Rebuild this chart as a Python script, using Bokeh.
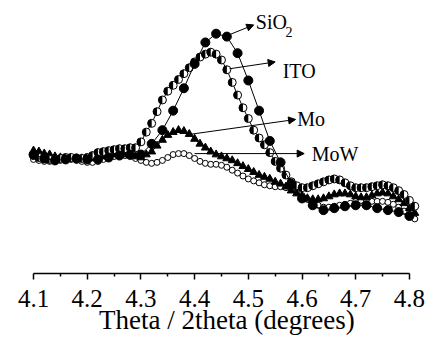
import numpy as np
from bokeh.plotting import figure
from bokeh.models import (Range1d, Arrow, NormalHead, FixedTicker, ColumnDataSource,
                          CustomJSTickFormatter)
from bokeh.core.properties import value
from bokeh.embed import file_html
from bokeh.resources import INLINE

# ---- data (intensity, arbitrary units) ----
theta_sio2 = np.round(np.arange(4.10, 4.801, 0.02), 2)
sio2 = [123, 119, 117, 118, 119, 118, 118, 120, 122, 123,
        123, 134, 148, 168, 191, 216, 238, 247, 244, 227,
        199, 168, 137, 115, 93, 78, 71, 66, 68, 70,
        71, 71, 68, 66, 64, 60]

theta = np.round(np.arange(4.10, 4.8101, 0.01), 2)
ito = [122, 120, 119, 118, 118, 119, 120, 120, 119, 119,
       120, 122, 125, 126, 127, 128, 129, 129, 130, 130,
       136, 146, 155, 167, 179, 188, 194, 200, 206, 212,
       218, 223, 226, 228, 226, 220, 210, 197, 184, 171,
       160, 148, 140, 133, 125, 116, 109, 102, 95, 91,
       89, 89, 91, 93, 95, 97, 98, 97, 94, 91,
       89, 89, 89, 90, 91, 92, 91, 89, 86, 82,
       76, 70]
mo = [127, 126, 124, 123, 121, 120, 119, 119, 119, 119,
      119, 119, 120, 121, 122, 123, 123, 123, 122, 121,
      120, 123, 126, 132, 138, 143, 146, 148, 147, 144,
      139, 134, 130, 126, 123, 121, 119, 117, 114, 111,
      108, 105, 102, 100, 98, 95, 93, 90, 86, 83,
      80, 78, 77, 77, 78, 80, 82, 83, 83, 82,
      80, 79, 79, 81, 83, 84, 83, 80, 77, 73,
      68, 63]
mow = [118, 117, 116, 116, 116, 117, 118, 118, 117, 116,
       115, 115, 116, 118, 120, 121, 122, 122, 121, 119,
       117, 115, 114, 115, 117, 120, 123, 124, 124, 122,
       119, 116, 114, 113, 113, 112, 110, 107, 104, 101,
       98, 96, 94, 92, 91, 90, 90, 89, 87, 84,
       81, 77, 74, 71, 69, 69, 70, 71, 72, 73,
       75, 76, 76, 75, 75, 75, 74, 72, 69, 65,
       61, 57]

tick_values = [4.1, 4.2, 4.3, 4.4, 4.5, 4.6, 4.7, 4.8]
tick_labels = ["4.1", "4.2", "4.3", "4.4", "4.5", "4.6", "4.7", "4.8"]
minor_values = [4.15, 4.25, 4.35, 4.45, 4.55, 4.65, 4.75]
x_title = ["Theta / 2theta (degrees)"]

# annotation arrows / labels
arrow_x0 = [4.456, 4.465, 4.395, 4.400]
arrow_y0 = [244, 211, 144, 124]
arrow_x1 = [4.510, 4.550, 4.588, 4.604]
arrow_y1 = [256, 218, 159, 124]
label_text = ["SiO", "ITO", "Mo", "MoW"]
label_x = [4.514, 4.564, 4.591, 4.618]
label_y = [259, 209, 159, 124]
sub_text = ["2"]
sub_x = [4.569]
sub_y = [249]

AXIS_Y = 1            # where the x axis line sits (intensity units)
TICK_LABEL_Y = -25    # baseline of the tick labels
TITLE_X = 4.46
TITLE_Y = -47         # baseline of the axis title

FONT = "'Liberation Serif', 'Times New Roman', serif"

p = figure(frame_width=426, frame_height=330,
           x_range=Range1d(4.0385, 4.8318), y_range=Range1d(-62.6, 275.9),
           x_axis_location="above",
           output_backend="svg", toolbar_location=None,
           min_border_left=0, min_border_right=0,
           min_border_top=5, min_border_bottom=0)
p.outline_line_color = None
p.grid.visible = False
p.yaxis.visible = False
p.background_fill_color = "white"
p.border_fill_color = "white"

# MoW: small open markers
p.line(theta, mow, line_color="black", line_width=1)
p.scatter(theta, mow, marker="circle", size=6, fill_color="white",
          line_color="black", line_width=1)
# Mo: filled triangles
p.line(theta, mo, line_color="black", line_width=1)
p.scatter(theta, mo, marker="triangle", size=8, fill_color="black",
          line_color="black", line_width=1)
# ITO: half-filled circles
p.line(theta, ito, line_color="black", line_width=1)
p.scatter(theta, ito, marker="circle", size=8, fill_color="white",
          line_color="black", line_width=1)
p.wedge(theta, ito, radius=4, radius_units="screen",
        start_angle=np.pi / 2, end_angle=3 * np.pi / 2,
        fill_color="black", line_color=None)
# SiO2: filled circles
p.line(theta_sio2, sio2, line_color="black", line_width=1)
p.scatter(theta_sio2, sio2, marker="circle", size=9, fill_color="black",
          line_color="black")

asrc = ColumnDataSource(dict(x0=arrow_x0, y0=arrow_y0, x1=arrow_x1, y1=arrow_y1))
p.add_layout(Arrow(end=NormalHead(size=7, fill_color="black", line_color="black"),
                   x_start="x0", y_start="y0", x_end="x1", y_end="y1",
                   source=asrc, line_color="black", line_width=1))

p.text(label_x, label_y, text=label_text, text_font=value(FONT),
       text_font_size="20px", text_align="left", text_baseline="middle",
       text_color="black")
p.text(sub_x, sub_y, text=sub_text, text_font=value(FONT),
       text_font_size="14px", text_align="left", text_baseline="middle",
       text_color="black")

# x axis: line and ticks from Bokeh's axis, placed at the bottom of the data area
ax = p.xaxis[0]
ax.fixed_location = AXIS_Y
ax.ticker = FixedTicker(ticks=tick_values, minor_ticks=minor_values)
ax.bounds = (4.1, 4.8)
ax.axis_line_width = 1.5
ax.axis_line_color = "black"
ax.major_tick_in = 6
ax.major_tick_out = 0
ax.minor_tick_in = 3
ax.minor_tick_out = 0
ax.major_tick_line_color = "black"
ax.minor_tick_line_color = "black"
ax.major_tick_line_width = 1.5
ax.minor_tick_line_width = 1.5
ax.formatter = CustomJSTickFormatter(code="return ''")
ax.major_label_text_font_size = "1px"
ax.major_label_standoff = 0
ax.axis_label = None

# tick labels and title as serif text
p.text(tick_values, [TICK_LABEL_Y] * len(tick_values), text=tick_labels,
       text_font=value(FONT), text_font_size="25px", text_align="center",
       text_baseline="alphabetic", text_color="black")
p.text([TITLE_X], [TITLE_Y], text=x_title,
       text_font=value(FONT), text_font_size="27px", text_align="center",
       text_baseline="alphabetic", text_color="black")

open("out.html", "w").write(file_html(p, INLINE))
